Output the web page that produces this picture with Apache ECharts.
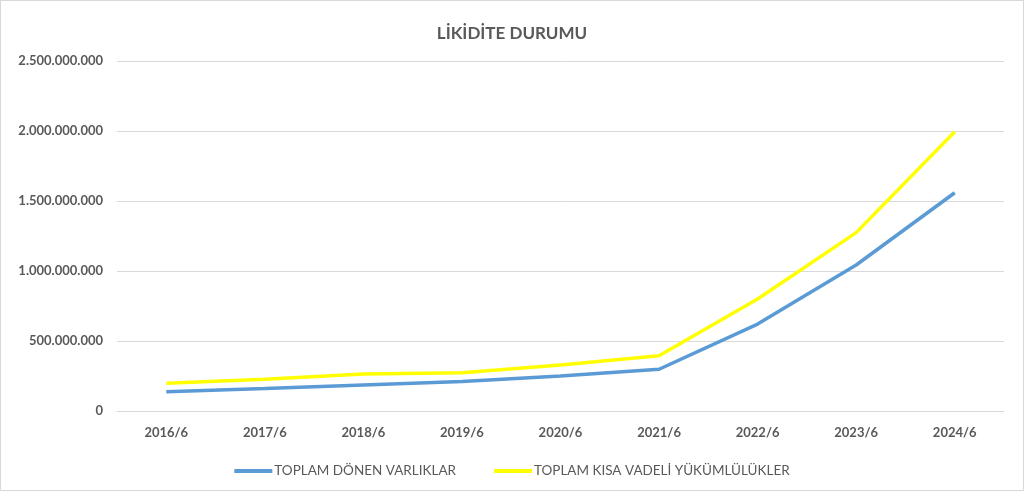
<!DOCTYPE html>
<html>
<head>
<meta charset="utf-8">
<script src="https://cdn.jsdelivr.net/npm/echarts@6/dist/echarts.min.js"></script>
<style>
  html, body { margin: 0; padding: 0; background: #fff; }
  #main { width: 1022px; height: 489px; border: 1px solid #d9d9d9; }
</style>
</head>
<body>
<div id="main"></div>
<script>
// dönemler
const categories = ['2016/6', '2017/6', '2018/6', '2019/6', '2020/6', '2021/6', '2022/6', '2023/6', '2024/6'];
// toplam dönen varlıklar
const donenVarliklar = [138000000, 160000000, 186000000, 210000000, 250000000, 298000000, 621000000, 1043000000, 1559000000];
// toplam kısa vadeli yükümlülükler
const kisaVadeli = [198000000, 226000000, 265000000, 274000000, 329000000, 395000000, 800000000, 1274000000, 1995000000];

// binlik ayırıcı nokta
const fmt = v => String(v).replace(/\B(?=(\d{3})+(?!\d))/g, '.');

const chart = echarts.init(document.getElementById('main'));
chart.setOption({
  animation: false,
  textStyle: { fontFamily: 'Lato' },
  title: {
    text: 'LİKİDİTE DURUMU',
    left: 'center',
    top: 19,
    textStyle: { color: '#595959', fontSize: 17, fontWeight: 'bold', fontFamily: 'Lato' }
  },
  grid: { left: 116, right: 19, top: 60, bottom: 79 },
  legend: {
    top: 458,
    left: 'center',
    icon: 'rect',
    itemWidth: 38,
    itemHeight: 4,
    itemGap: 38,
    textStyle: { color: '#595959', fontSize: 13.5, fontFamily: 'Lato', padding: [0, 0, 0, -3] },
    data: ['TOPLAM DÖNEN VARLIKLAR', 'TOPLAM KISA VADELİ YÜKÜMLÜLÜKLER']
  },
  xAxis: {
    type: 'category',
    data: categories,
    boundaryGap: true,
    axisLine: { lineStyle: { color: '#d9d9d9' } },
    axisTick: { show: false },
    axisLabel: { color: '#595959', fontSize: 13, fontWeight: 'bold', margin: 15 }
  },
  yAxis: {
    type: 'value',
    min: 0,
    max: 2500000000,
    interval: 500000000,
    axisLine: { show: false },
    axisTick: { show: false },
    splitLine: { lineStyle: { color: '#d9d9d9' } },
    axisLabel: { color: '#595959', fontSize: 13, fontWeight: 'bold', margin: 14, formatter: fmt }
  },
  series: [
    {
      name: 'TOPLAM DÖNEN VARLIKLAR',
      type: 'line',
      data: donenVarliklar,
      showSymbol: false,
      itemStyle: { color: '#5B9BD5' },
      lineStyle: { color: '#5B9BD5', width: 3.5 }
    },
    {
      name: 'TOPLAM KISA VADELİ YÜKÜMLÜLÜKLER',
      type: 'line',
      data: kisaVadeli,
      showSymbol: false,
      itemStyle: { color: '#FFFF00' },
      lineStyle: { color: '#FFFF00', width: 3.5 }
    }
  ]
});
</script>
</body>
</html>
